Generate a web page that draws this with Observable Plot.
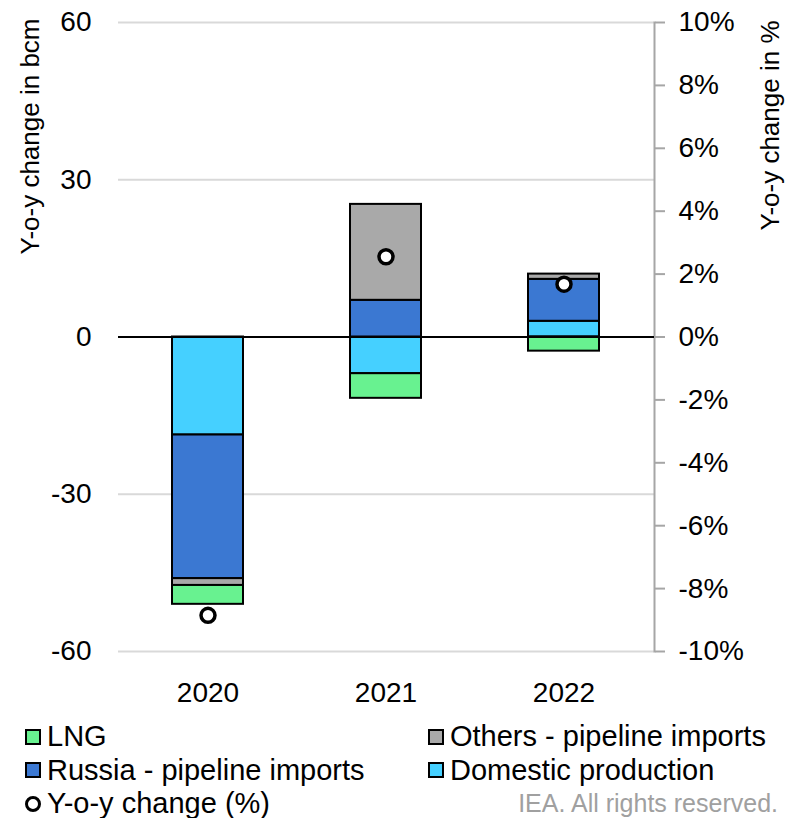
<!DOCTYPE html>
<html>
<head>
<meta charset="utf-8">
<script src="https://cdn.jsdelivr.net/npm/d3@7"></script>
<script src="https://cdn.jsdelivr.net/npm/@observablehq/plot@0.6"></script>
<style>
  html, body { margin: 0; padding: 0; background: #fff; }
  body { font-family: "Liberation Sans", Arial, sans-serif; color: #000; width: 789px; }
  #legend { display: grid; grid-template-columns: 403px 361px; padding-left: 25px; margin-top: 8px; }
  .item { display: flex; align-items: center; height: 33.5px; font-size: 29px; white-space: nowrap; }
  .sw { width: 12px; height: 12px; border: 2px solid #000; margin-right: 6px; flex: none; }
  .dotsw { width: 10px; height: 10px; border: 3px solid #000; border-radius: 50%; margin-right: 6px; flex: none; background: #fff; }
  .credit { justify-content: flex-end; color: #a0a0a0; font-size: 25px; padding-right: 11px; }
</style>
</head>
<body>
<div id="chart"></div>
<div id="legend"></div>
<script>
const years = ["2020", "2021", "2022"];
const seriesNames = ["Domestic production", "Russia - pipeline imports", "Others - pipeline imports", "LNG"];
const seriesColors = ["#45d0ff", "#3b78d2", "#a9a9a9", "#68f290"];
const domestic = [-18.7, -7.0, 3.0];
const russia = [-27.4, 7.0, 8.0];
const others = [-1.3, 18.3, 1.0];
const lng = [-3.6, -4.7, -2.7];
const yoyPct = [-8.85, 2.55, 1.68];
const leftTicks = [-60, -30, 0, 30, 60];
const gridTicks = [-60, -30, 30, 60];
const rightTicks = [-10, -8, -6, -4, -2, 0, 2, 4, 6, 8, 10];
const bcmPerPct = 6; // right axis: 10% aligns with 60 bcm
const leftLabel = "Y-o-y change in bcm";
const rightLabel = "Y-o-y change in %";
const legendOrder = ["LNG", "Others - pipeline imports", "Russia - pipeline imports", "Domestic production"];
const dotLabel = "Y-o-y change (%)";
const credit = "IEA. All rights reserved.";

const seriesValues = [domestic, russia, others, lng];
const rows = [];
seriesNames.forEach((s, i) => years.forEach((y, j) => rows.push({year: y, series: s, value: seriesValues[i][j]})));
const yoyRows = years.map((y, j) => ({year: y, pct: yoyPct[j]}));

const chart = Plot.plot({
  width: 789,
  height: 712,
  marginLeft: 118,
  marginRight: 135,
  marginTop: 22,
  marginBottom: 61,
  style: {fontFamily: "'Liberation Sans', Arial, sans-serif", fontSize: "28px", color: "#000", background: "#fff"},
  x: {domain: years, paddingInner: 0.6, paddingOuter: 0.3, axis: null},
  y: {domain: [-60, 60], axis: null},
  color: {domain: seriesNames, range: seriesColors},
  marks: [
    Plot.gridY(gridTicks, {stroke: "#d9d9d9", strokeOpacity: 1, strokeWidth: 2}),
    Plot.frame({anchor: "right", stroke: "#a6a6a6", strokeWidth: 2}),
    Plot.barY(rows, Plot.stackY({x: "year", y: "value", z: "series", fill: "series", order: seriesNames, stroke: "#000", strokeWidth: 2})),
    Plot.ruleY([0], {stroke: "#000", strokeWidth: 2}),
    Plot.dot(yoyRows, {x: "year", y: d => d.pct * bcmPerPct, r: 7, fill: "#fff", stroke: "#000", strokeWidth: 3.5}),
    Plot.axisY(leftTicks, {anchor: "left", tickSize: 0, tickPadding: 27, fontSize: 28, tickFormat: d => String(d), label: null}),
    Plot.axisY(rightTicks.map(p => p * bcmPerPct), {anchor: "right", tickSize: 10, tickPadding: 14, stroke: "#a6a6a6", strokeWidth: 2, fontSize: 28, tickFormat: d => `${Math.round(d / bcmPerPct)}%`, label: null}),
    Plot.axisX({anchor: "bottom", tickSize: 0, tickPadding: 31, fontSize: 28, label: null}),
    Plot.text([leftLabel], {text: d => d, frameAnchor: "top-left", rotate: -90, textAnchor: "end", dx: -98, dy: -4, fontSize: 26}),
    Plot.text([rightLabel], {text: d => d, frameAnchor: "top-right", rotate: -90, textAnchor: "end", dx: 106, dy: -2, fontSize: 26})
  ]
});
document.getElementById("chart").appendChild(chart);

const legend = document.getElementById("legend");
const colorOf = name => seriesColors[seriesNames.indexOf(name)];
legendOrder.forEach(name => {
  const item = document.createElement("div");
  item.className = "item";
  const sw = document.createElement("span");
  sw.className = "sw";
  sw.style.background = colorOf(name);
  item.appendChild(sw);
  item.appendChild(document.createTextNode(name));
  legend.appendChild(item);
});
const dItem = document.createElement("div");
dItem.className = "item";
const dsw = document.createElement("span");
dsw.className = "dotsw";
dItem.appendChild(dsw);
dItem.appendChild(document.createTextNode(dotLabel));
legend.appendChild(dItem);
const cItem = document.createElement("div");
cItem.className = "item credit";
cItem.textContent = credit;
legend.appendChild(cItem);
</script>
</body>
</html>
